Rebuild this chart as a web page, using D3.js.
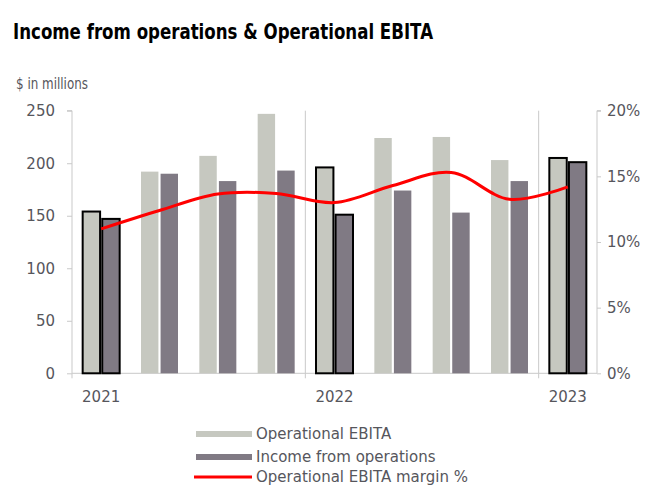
<!DOCTYPE html>
<html><head><meta charset="utf-8">
<script src="https://cdn.jsdelivr.net/npm/d3@7/dist/d3.min.js"></script>
<style>
body{margin:0;background:#fff;}
text{font-family:"DejaVu Sans",sans-serif;}
</style></head>
<body><svg id="c" width="669" height="492"></svg>
<script>
const categories = ["Q1 2021","Q2 2021","Q3 2021","Q4 2021","Q1 2022","Q2 2022","Q3 2022","Q4 2022","Q1 2023"];
const yearLabels = ["2021","","","","2022","","","","2023"];
const highlighted = [true,false,false,false,true,false,false,false,true];
const ebita = [154,192,207,247,196,224,225,203,205];
const income = [147,190,183,193,151,174,153,183,201];
const margin = [11.0,12.4,13.65,13.7,13.0,14.3,15.3,13.25,14.2];
const leftTicks = [0,50,100,150,200,250];
const rightTicks = [0,5,10,15,20];
const seriesNames = ["Operational EBITA","Income from operations","Operational EBITA margin %"];

const svg = d3.select("#c");
const L = 72, R = 597, T = 110.7, B = 373.3;
const textCol = "#56565c", axisCol = "#c9c9c9";
const colE = "#c6c8c0", colI = "#807a84";
const FONT = "'DejaVu Sans',sans-serif";

const x = d3.scaleBand().domain(categories).range([L, R]);
const sub = d3.scaleBand().domain([0,1]).range([-18.5, 18.5]).paddingInner(0.11);
const y = d3.scaleLinear().domain([0,250]).range([B, T]);
const y2 = d3.scaleLinear().domain([0,20]).range([B, T]);

// title
svg.append("text").attr("x",13).attr("y",39).attr("font-weight","bold").attr("font-family","Roboto,sans-serif")
  .attr("font-size",22).attr("fill","#000").text("Income from operations & Operational EBITA")
  .attr("textLength",420).attr("lengthAdjust","spacingAndGlyphs");
svg.append("text").attr("x",16).attr("y",89).attr("font-size",15).attr("font-family","Roboto,sans-serif")
  .attr("fill",textCol).text("$ in millions").attr("textLength",72).attr("lengthAdjust","spacingAndGlyphs");

// vertical year gridlines
[4,8].forEach(i=>{
  const xx = x(categories[i]);
  svg.append("line").attr("x1",xx).attr("x2",xx).attr("y1",T).attr("y2",B).attr("stroke",axisCol).attr("stroke-width",1);
});

// left axis
const ga = svg.append("g").attr("transform",`translate(${L},0)`)
  .call(d3.axisLeft(y).tickValues(leftTicks).tickSize(5).tickPadding(12).tickFormat(d3.format("d")));
ga.select(".domain").attr("stroke",axisCol).attr("d",`M-5,${T}H0V${B}`);
ga.selectAll(".tick line").attr("stroke",axisCol);
ga.selectAll("text").attr("font-size",15).attr("fill",textCol).attr("font-family",FONT);

// right axis
const gr = svg.append("g").attr("transform",`translate(${R},0)`)
  .call(d3.axisRight(y2).tickValues(rightTicks).tickSize(4).tickPadding(6).tickFormat(d=>d+"%"));
gr.select(".domain").attr("stroke",axisCol).attr("d",`M4,${T}H0V${B}`);
gr.selectAll(".tick line").attr("stroke",axisCol);
gr.selectAll("text").attr("font-size",15).attr("fill",textCol).attr("font-family",FONT);

// bottom axis
const gb = svg.append("g").attr("transform",`translate(0,${B})`)
  .call(d3.axisBottom(x).tickSize(0).tickPadding(0).tickFormat((d,i)=>yearLabels[i]));
gb.select(".domain").attr("stroke",axisCol).attr("d",`M${L},0H${R}`);
gb.selectAll(".tick text").attr("font-size",15).attr("fill",textCol).attr("dy","1.9em").attr("font-family",FONT);
[0,4,8].forEach(i=>{
  const xx = x(categories[i]);
  svg.append("line").attr("x1",xx).attr("x2",xx).attr("y1",B).attr("y2",B+5).attr("stroke",axisCol);
});

// bars
const cx = d => x(d) + x.bandwidth()/2;
const g = svg.append("g");
categories.forEach((c,i)=>{
  [[ebita[i],colE,0],[income[i],colI,1]].forEach(([v,col,k])=>{
    const r = g.append("rect").attr("x",cx(c)+sub(k)).attr("width",sub.bandwidth())
      .attr("y",y(v)).attr("height",B - y(v)).attr("fill",col);
    if (highlighted[i]) r.attr("stroke","#000").attr("stroke-width",2);
  });
});

// margin line
const line = d3.line().x((d,i)=>cx(categories[i])).y(d=>y2(d)).curve(d3.curveCatmullRom.alpha(0.5));
svg.append("path").datum(margin).attr("d",line).attr("fill","none").attr("stroke","#ff0000").attr("stroke-width",3);

// legend
const lg = svg.append("g");
const ly = [434, 457, 477];
lg.append("rect").attr("x",196).attr("y",ly[0]-3).attr("width",56).attr("height",6).attr("fill",colE);
lg.append("rect").attr("x",196).attr("y",ly[1]-3).attr("width",56).attr("height",6).attr("fill",colI);
lg.append("line").attr("x1",194).attr("x2",252).attr("y1",ly[2]).attr("y2",ly[2]).attr("stroke","#ff0000").attr("stroke-width",3);
seriesNames.forEach((n,i)=>{
  lg.append("text").attr("x",256).attr("y",ly[i]).attr("dy","0.35em").attr("font-size",15).attr("fill",textCol).attr("font-family",FONT).text(n);
});
</script></body></html>
